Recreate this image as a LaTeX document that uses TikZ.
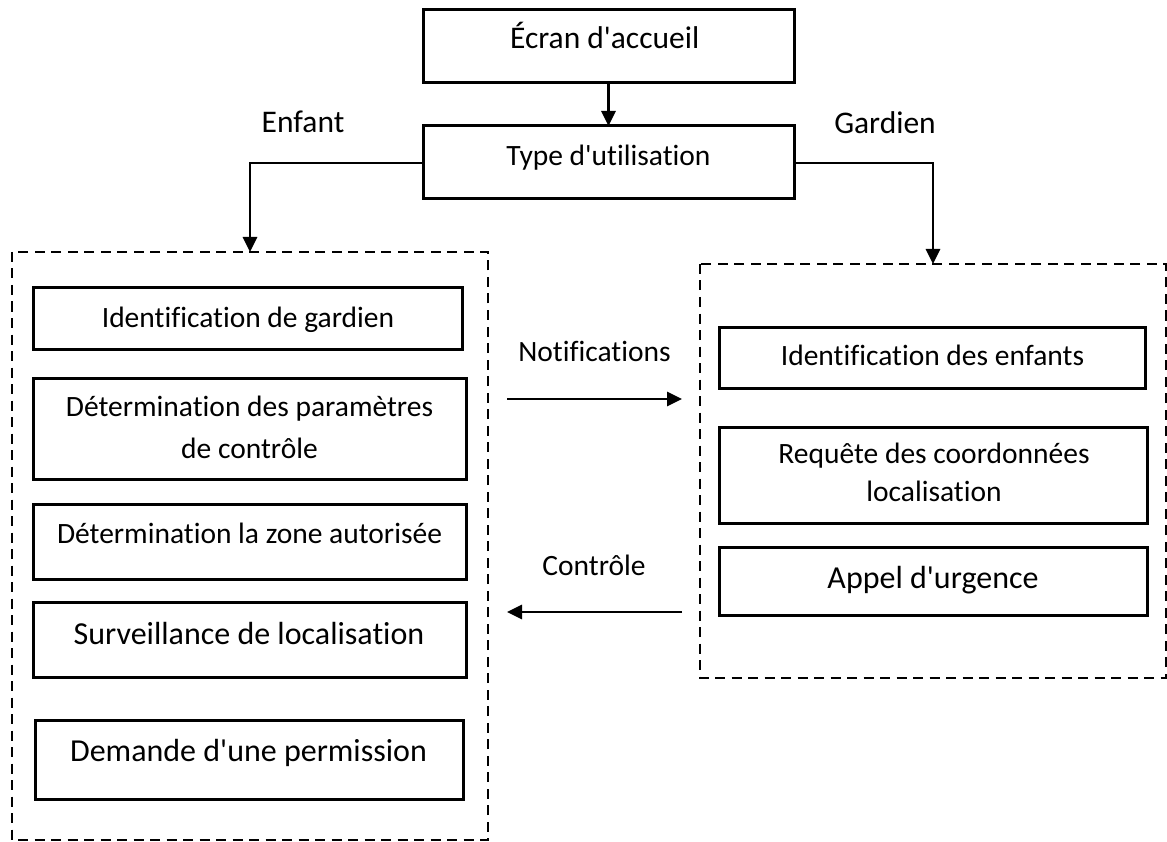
\documentclass[tikz,border=0pt]{standalone}
\usepackage{fontspec}
\setmainfont{Carlito}[Ligatures=NoCommon]
\usetikzlibrary{arrows.meta}
\newcommand{\apos}{\textquotesingle}
\begin{document}
\begin{tikzpicture}[x=1pt,y=-1pt,
  box/.style={draw=black,line width=3pt},
  group/.style={draw=black,line width=2.8pt,dash pattern=on 10pt off 6.5pt},
  flow/.style={draw=black,line width=2.7pt,-{Triangle[length=15pt,width=14pt]}},
  txt/.style={anchor=base,inner sep=0pt,font=\fontsize{29.5}{40}\selectfont},
  bigtxt/.style={anchor=base,inner sep=0pt,font=\fontsize{32}{40}\selectfont},
  lbl/.style={anchor=base,inner sep=0pt,font=\fontsize{29.5}{36}\selectfont},
  branch/.style={anchor=base,inner sep=0pt,font=\fontsize{31.5}{36}\selectfont}]
\useasboundingbox (0,0) rectangle (1167,842);

% top boxes
\draw[box] (423,10) rectangle (794,83);
\coordinate (ecranS) at (608.5,83);
\node[branch] (ecran) at (604.7,49) {Écran d\apos accueil};
\draw[box] (423,126) rectangle (794,199);
\coordinate (typeN) at (608.5,126);
\coordinate (typeW) at (423,163);
\coordinate (typeE) at (794,163);
\node[txt] (type) at (608.5,166) {Type d\apos utilisation};
\draw[flow] (ecranS) -- (typeN);

% branch labels
\node[branch] (enfant) at (303,133) {Enfant};
\node[branch] (gardien) at (885,134) {Gardien};

% child group
\draw[group] (12,252) rectangle (488,840);
\coordinate (childN) at (250,252);
\draw[flow] (typeW) -| (childN);

\draw[box] (33,288) rectangle (462,349);
\node[txt] (c1) at (248,327) {Identification de gardien};
\draw[box] (33,378) rectangle (466,479);
\node[txt] (c2a) at (249.5,416) {Détermination des paramètres};
\node[txt] (c2b) at (249.5,458) {de contrôle};
\draw[box] (33,504) rectangle (466,579);
\node[txt] (c3) at (249.5,543) {Détermination la zone autorisée};
\draw[box] (33,602) rectangle (466,677);
\node[bigtxt] (c4) at (249,644) {Surveillance de localisation};
\draw[box] (35,720) rectangle (463,799);
\node[bigtxt] (c5) at (248.5,761) {Demande d\apos une permission};

% guardian group
\draw[group] (700,264) rectangle (1166,678);
\coordinate (guardN) at (933,264);
\draw[flow] (typeE) -| (guardN);

\draw[box] (719,327) rectangle (1145,388);
\node[txt] (g1) at (932.5,365) {Identification des enfants};
\draw[box] (719,427) rectangle (1147,523);
\node[txt] (g2a) at (934,463) {Requête des coordonnées};
\node[txt] (g2b) at (934,501) {localisation};
\draw[box] (719,547) rectangle (1147,615);
\node[bigtxt] (g3) at (933,588) {Appel d\apos urgence};

% exchanges between the two groups
\coordinate (notA) at (507,399);
\coordinate (notB) at (682,399);
\node[lbl] (notif) at (594.5,361) {Notifications};
\draw[flow] (notA) -- (notB);
\coordinate (ctlA) at (682,612);
\coordinate (ctlB) at (507,612);
\node[lbl] (ctl) at (594,575) {Contrôle};
\draw[flow] (ctlA) -- (ctlB);
\end{tikzpicture}
\end{document}
